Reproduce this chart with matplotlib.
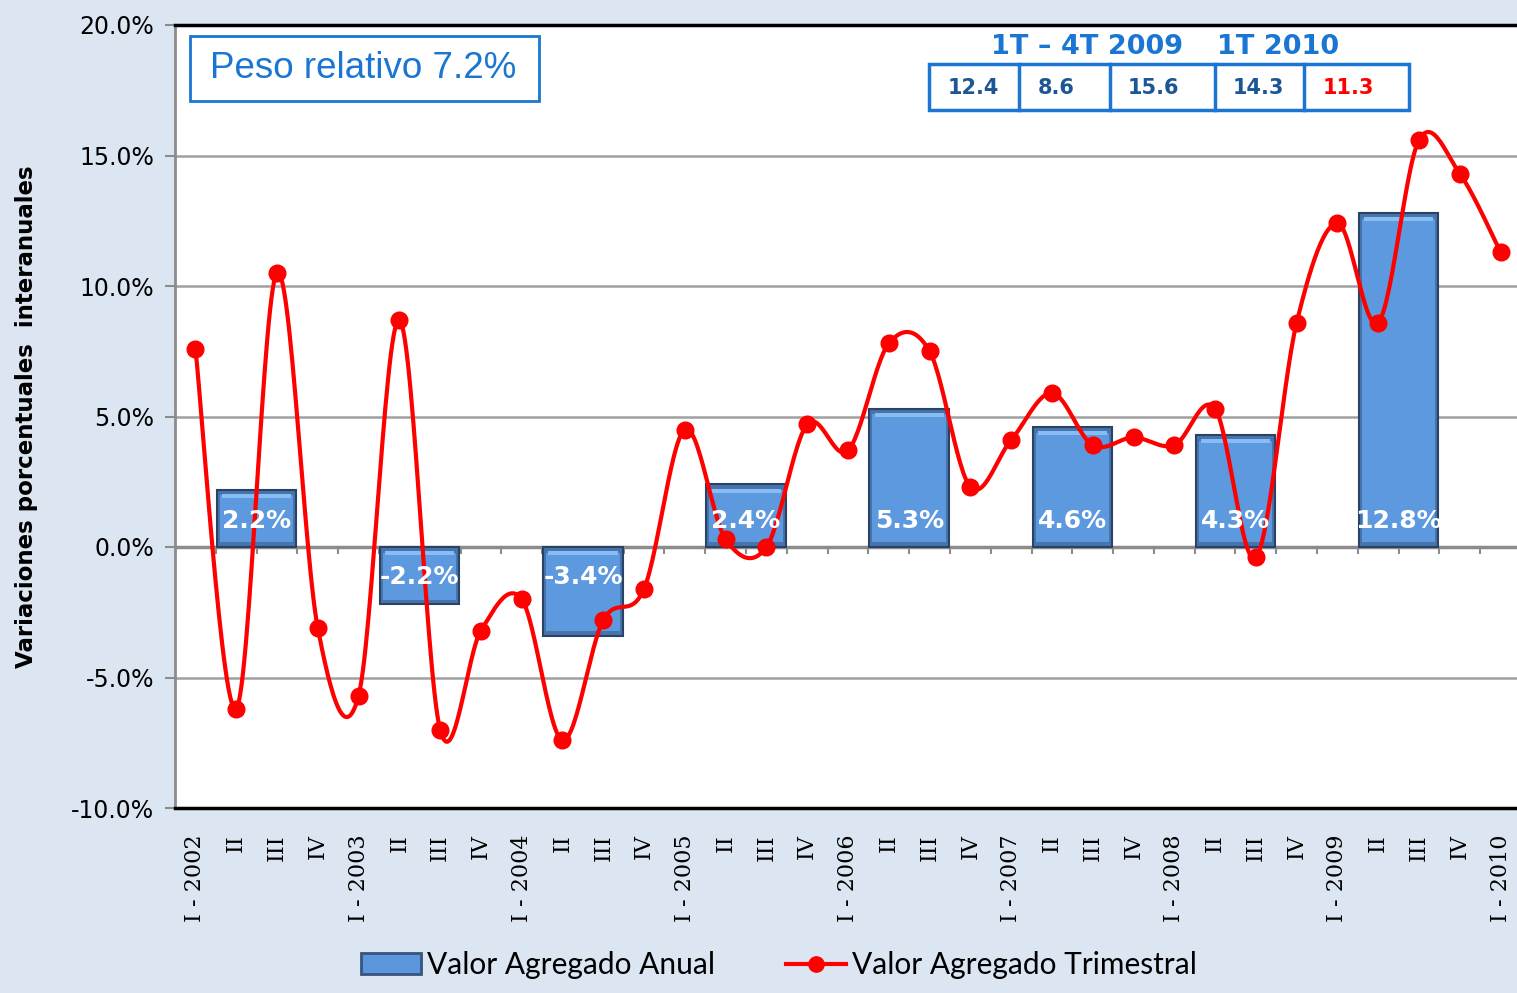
import numpy as np
import matplotlib
matplotlib.use('Agg')
import matplotlib.pyplot as plt
from matplotlib.patches import Rectangle, Patch
from matplotlib.lines import Line2D

# Datos trimestrales (variación interanual, %)
trimestres = []
for anio in range(2002, 2010):
    trimestres += ['I - %d' % anio, 'II', 'III', 'IV']
trimestres.append('I - 2010')

trimestral = [7.6, -6.2, 10.5, -3.1,
              -5.7, 8.7, -7.0, -3.2,
              -2.0, -7.4, -2.8, -1.6,
              4.5, 0.3, 0.0, 4.7,
              3.7, 7.8, 7.5, 2.3,
              4.1, 5.9, 3.9, 4.2,
              3.9, 5.3, -0.4, 8.6,
              12.4, 8.6, 15.6, 14.3,
              11.3]

# Datos anuales
anios = [2002, 2003, 2004, 2005, 2006, 2007, 2008, 2009]
anual = [2.2, -2.2, -3.4, 2.4, 5.3, 4.6, 4.3, 12.8]

# Tabla superior
tabla_valores = ['12.4', '8.6', '15.6', '14.3', '11.3']

fondo = '#dce6f2'
azul = '#1a76d2'
W, H = 1517, 993


def fx(px):
    return px / W


def fy(py):
    return 1 - py / H


def suavizar(y, n=30):
    # curva suavizada tipo Excel (Catmull-Rom en forma Bezier)
    y = np.asarray(y, dtype=float)
    x = np.arange(len(y), dtype=float)
    xp = np.concatenate([[x[0]], x, [x[-1]]])
    yp = np.concatenate([[y[0]], y, [y[-1]]])
    xs, ys = [], []
    t = np.linspace(0, 1, n)
    for i in range(len(y) - 1):
        p0 = np.array([xp[i + 1], yp[i + 1]])
        p3 = np.array([xp[i + 2], yp[i + 2]])
        b1 = p0 + (p3 - np.array([xp[i], yp[i]])) / 6
        b2 = p3 - (np.array([xp[i + 3], yp[i + 3]]) - p0) / 6
        pts = ((1 - t)[:, None] ** 3 * p0 + 3 * ((1 - t) ** 2 * t)[:, None] * b1
               + 3 * ((1 - t) * t ** 2)[:, None] * b2 + (t ** 3)[:, None] * p3)
        xs.append(pts[:, 0])
        ys.append(pts[:, 1])
    return np.concatenate(xs), np.concatenate(ys)


fig = plt.figure(figsize=(W / 100, H / 100), dpi=100, facecolor=fondo)
ax = fig.add_axes([fx(175), fy(808), fx(1521) - fx(175), fy(25) - fy(808)])
ax.set_facecolor('white')

x = np.arange(len(trimestral))
ax.set_xlim(-0.5, 32.5)
ax.set_ylim(-10, 20)

# grilla
for g in [-5, 5, 10, 15]:
    ax.axhline(g, color='#a0a0a0', lw=1.8, zorder=1)
ax.axhline(0, color='#8c8c8c', lw=2.5, zorder=2)
ax.vlines(np.arange(-0.5, 33, 1.0), -0.28, 0, color='#8c8c8c', lw=1.5, zorder=2)

# barras anuales (con efecto bisel)
pos_barras = np.array([(a - 2002) * 4 + 1.5 for a in anios])
anual_arr = np.array(anual)
lo = np.minimum(0, anual_arr)
hi = np.maximum(0, anual_arr)
ax.bar(pos_barras, anual_arr, width=1.95, color='#4674ab',
       edgecolor='#2a4266', linewidth=1.5, zorder=3)
ax.bar(pos_barras, (hi - lo) - 0.4, bottom=lo + 0.18, width=1.8,
       color='#5d99df', linewidth=0, zorder=3)
ax.bar(pos_barras, 0.15, bottom=hi - 0.32, width=1.7,
       color='#88bdf3', linewidth=0, zorder=3)
for xb, v in zip(pos_barras, anual):
    yl = 1.0 if v > 0 else -1.15
    ax.text(xb, yl, '%.1f%%' % v, color='white', fontsize=18, fontweight='bold',
            ha='center', va='center', zorder=6)

# línea trimestral
xs, ys = suavizar(trimestral)
ax.plot(xs, ys, color='#ff0000', lw=3, zorder=4)
ax.plot(x, trimestral, 'o', color='#ff0000', ms=12, zorder=5)

# ejes
ax.set_yticks([-10, -5, 0, 5, 10, 15, 20])
ax.set_yticklabels(['%.1f%%' % v for v in [-10, -5, 0, 5, 10, 15, 20]], fontsize=17)
ax.tick_params(axis='y', length=7, color='#8c8c8c', width=1.5, pad=8)
ax.set_xticks(x)
ax.set_xticklabels(trimestres, rotation=90, fontsize=16, family='DejaVu Serif')
ax.tick_params(axis='x', length=0, pad=19)
ax.set_ylabel('Variaciones porcentuales  interanuales', fontsize=16.5,
              fontweight='bold', labelpad=24)

ax.spines['left'].set_color('#8c8c8c')
ax.spines['left'].set_linewidth(2)
ax.spines['top'].set_color('black')
ax.spines['top'].set_linewidth(2.5)
ax.spines['bottom'].set_color('black')
ax.spines['bottom'].set_linewidth(2.5)
ax.spines['right'].set_visible(False)

# recuadro peso relativo
fig.patches.append(Rectangle((fx(190), fy(101)), fx(539) - fx(190), fy(36) - fy(101),
                             transform=fig.transFigure, fill=False, edgecolor=azul, lw=2))
fig.text(fx(363), fy(69), 'Peso relativo 7.2%', color=azul, fontsize=26.5,
         family='Liberation Sans', ha='center', va='center')

# tabla 2009 - 2010
fig.text(fx(1087), fy(47), '1T \u2013 4T 2009', color=azul, fontsize=19.5,
         fontweight='bold', ha='center', va='center')
fig.text(fx(1278), fy(47), '1T 2010', color=azul, fontsize=19.5,
         fontweight='bold', ha='center', va='center')
fig.patches.append(Rectangle((fx(929), fy(110)), fx(1409) - fx(929), fy(64) - fy(110),
                             transform=fig.transFigure, fill=False, edgecolor=azul, lw=2.5))
for xd in [1019, 1110, 1215, 1304]:
    fig.add_artist(Line2D([fx(xd), fx(xd)], [fy(110), fy(64)], color=azul, lw=2.5))
centros = [973, 1056, 1153, 1258, 1348]
for i, (c, t) in enumerate(zip(centros, tabla_valores)):
    col = '#ff0000' if i == len(tabla_valores) - 1 else '#1b5797'
    fig.text(fx(c), fy(88), t, color=col, fontsize=15, fontweight='bold',
             ha='center', va='center')

# leyenda
handles = [Patch(facecolor='#5b96dc', edgecolor='#34557d', lw=2),
           Line2D([], [], color='#ff0000', lw=3, marker='o', ms=11)]
fig.legend(handles, ['Valor Agregado Anual', 'Valor Agregado Trimestral'],
           loc='center', bbox_to_anchor=(fx(779), fy(965)), ncol=2, frameon=False,
           prop={'family': 'Lato', 'size': 21.5}, handlelength=2.0, handletextpad=0.2,
           columnspacing=2.4)

fig.savefig('out.png', dpi=100, facecolor=fondo)
